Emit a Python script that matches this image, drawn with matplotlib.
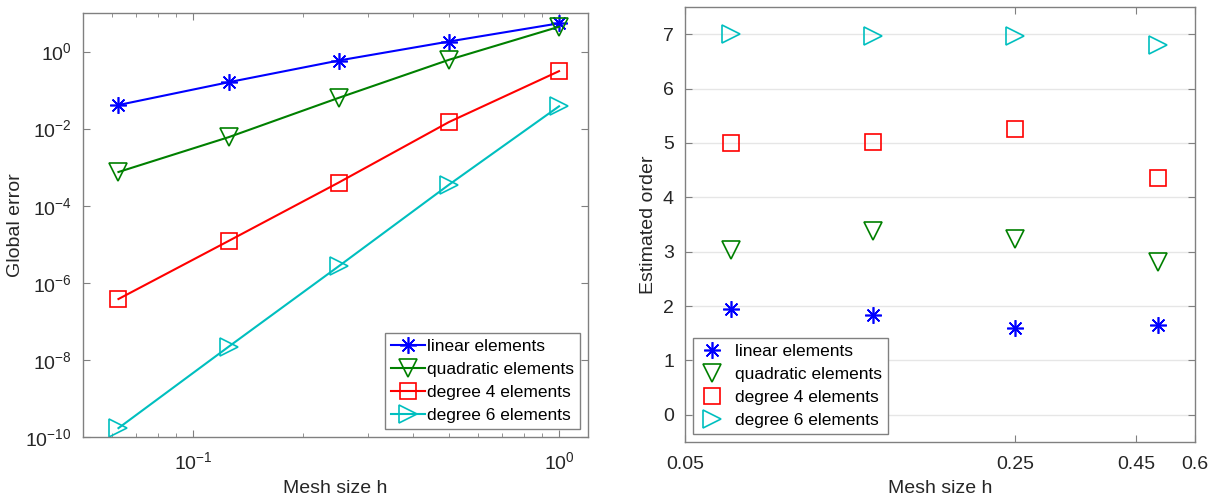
import numpy as np
import matplotlib.pyplot as plt
from matplotlib.ticker import LogLocator, NullLocator, FixedLocator, NullFormatter

plt.rcParams['font.family'] = ['Liberation Sans', 'DejaVu Sans']
plt.rcParams['mathtext.fontset'] = 'custom'
plt.rcParams['mathtext.rm'] = 'Liberation Sans'
plt.rcParams['axes.unicode_minus'] = False

# mesh sizes and global errors
h = [0.0625, 0.125, 0.25, 0.5, 1.0]
err_linear = [0.041, 0.16, 0.585, 1.82, 5.4]
err_quad = [7.5e-4, 6.0e-3, 0.063, 0.61, 4.4]
err_deg4 = [3.8e-7, 1.22e-5, 4.0e-4, 0.0148, 0.31]
err_deg6 = [1.7e-10, 2.2e-8, 2.7e-6, 3.5e-4, 0.038]

# estimated orders
h_ord = [0.0625, 0.125, 0.25, 0.5]
ord_linear = [1.95, 1.83, 1.59, 1.65]
ord_quad = [3.04, 3.38, 3.23, 2.81]
ord_deg4 = [5.0, 5.02, 5.26, 4.35]
ord_deg6 = [7.0, 6.97, 6.96, 6.80]

labels = ["linear elements", "quadratic elements", "degree 4 elements", "degree 6 elements"]
colors = ["#0000ff", "#008000", "#ff0000", "#00bfbf"]
markers = [(8, 2, 0), "v", "s", ">"]
msizes = [12, 13, 11, 13]

txt = "#262626"
frame = "#808080"

fig = plt.figure(figsize=(12.16, 5.01), dpi=100)
W, H = 1216, 501
ax1 = fig.add_axes([83 / W, 1 - 437 / H, (588 - 83) / W, (437 - 13) / H])
ax2 = fig.add_axes([685 / W, 1 - 442 / H, (1195 - 685) / W, (442 - 7) / H])

# left: log-log error plot
for y, c, m, ms, lab in zip([err_linear, err_quad, err_deg4, err_deg6], colors, markers, msizes, labels):
    ax1.loglog(h, y, color=c, marker=m, ms=ms, mfc="none", mec=c, mew=1.2, lw=1.5, label=lab)
ax1.set_xlim(0.05, 1.2)
ax1.set_ylim(1e-10, 1e1)
ax1.yaxis.set_major_locator(FixedLocator([1e-10, 1e-8, 1e-6, 1e-4, 1e-2, 1e0]))
ax1.yaxis.set_minor_locator(NullLocator())
ax1.xaxis.set_major_locator(FixedLocator([0.1, 1.0]))
ax1.xaxis.set_minor_locator(LogLocator(base=10, subs=np.arange(2, 10)))
ax1.xaxis.set_minor_formatter(NullFormatter())
ax1.set_xlabel("Mesh size h", fontsize=14, color=txt, labelpad=5)
ax1.set_ylabel("Global error", fontsize=14, color=txt, labelpad=1)
leg1 = ax1.legend(loc="lower right", fontsize=12.5, handlelength=2.0, handletextpad=0.1,
                  borderpad=0.35, labelspacing=0.45, fancybox=False, framealpha=1,
                  borderaxespad=0.45)
leg1.get_frame().set_edgecolor(frame)
leg1.get_frame().set_linewidth(1.0)

# right: estimated order
for y, c, m, ms, lab in zip([ord_linear, ord_quad, ord_deg4, ord_deg6], colors, markers, msizes, labels):
    ax2.plot(h_ord, y, ls="none", color=c, marker=m, ms=ms, mfc="none", mec=c, mew=1.2, label=lab)
ax2.set_xscale("log")
ax2.set_xlim(0.05, 0.6)
ax2.set_ylim(-0.5, 7.5)
ax2.xaxis.set_major_locator(FixedLocator([0.05, 0.25, 0.45, 0.6]))
ax2.xaxis.set_minor_locator(NullLocator())
ax2.set_xticklabels(["0.05", "0.25", "0.45", "0.6"])
ax2.set_yticks(range(0, 8))
ax2.grid(axis="y", color="#e6e6e6", lw=1.0)
ax2.set_axisbelow(True)
ax2.set_xlabel("Mesh size h", fontsize=14, color=txt, labelpad=5)
ax2.set_ylabel("Estimated order", fontsize=14, color=txt, labelpad=4)
leg2 = ax2.legend(loc="lower left", fontsize=12.5, handlelength=1.5, handletextpad=0.6,
                  borderpad=0.35, labelspacing=0.45, fancybox=False, framealpha=1,
                  borderaxespad=0.45)
leg2.get_frame().set_edgecolor(frame)
leg2.get_frame().set_linewidth(1.0)

for ax in (ax1, ax2):
    for s in ax.spines.values():
        s.set_color(frame)
        s.set_linewidth(1.0)
    ax.tick_params(which="both", direction="in", top=True, right=True, color=frame,
                   labelcolor=txt, labelsize=14, pad=8)
    ax.tick_params(axis="x", which="both", pad=10)
    ax.tick_params(which="major", length=5)
    ax.tick_params(which="minor", length=3)

fig.savefig("out.png", dpi=100)
